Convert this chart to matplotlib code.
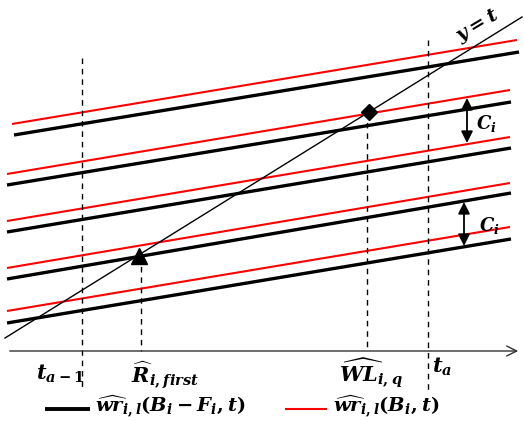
import matplotlib.pyplot as plt
import numpy as np

plt.rcParams['mathtext.fontset'] = 'custom'
plt.rcParams['mathtext.it'] = 'DejaVu Serif:bold:italic'
plt.rcParams['mathtext.rm'] = 'DejaVu Serif:bold'
plt.rcParams['mathtext.bf'] = 'DejaVu Serif:bold'

# line pairs (pixel-like coordinates, y grows downward)
red_x0 = [12, 7, 7, 7, 7]
red_x1 = [517, 510, 510, 510, 510]
red_y0 = [124, 174, 221, 268, 311]
red_y1 = [40, 90, 137, 183, 227]
black_x0 = [14, 7, 7, 7, 7]
black_x1 = [519, 511, 511, 511, 511]
black_y0 = [135, 185, 232, 279, 323]
black_y1 = [52, 102, 148, 193, 239]

# y = t diagonal
diag_x = [5, 522]
diag_y = [338, 17]

# vertical dashed markers
vline_x = [82, 141, 367, 428]
vline_top = [58, 256, 112, 40]
vline_bot = [390, 351, 351, 390]

tri_pt = (139, 256)
dia_pt = (369, 112)

fig = plt.figure(figsize=(5.24, 4.21), dpi=100)
ax = fig.add_axes([0, 0, 1, 1])
ax.set_xlim(0, 524)
ax.set_ylim(421, 0)
ax.axis('off')

for i in range(5):
    ax.plot([black_x0[i], black_x1[i]], [black_y0[i], black_y1[i]], color='black', lw=2.4,
            solid_capstyle='butt')
    ax.plot([red_x0[i], red_x1[i]], [red_y0[i], red_y1[i]], color='#ff0000', lw=1.5,
            solid_capstyle='butt')

ax.plot(diag_x, diag_y, color='black', lw=1.0)

for x, y0, y1 in zip(vline_x, vline_top, vline_bot):
    ax.plot([x, x], [y0, y1], color='black', lw=1.0, dashes=(4, 3.5))

# time axis
ax.annotate('', xy=(521, 351), xytext=(7, 351),
            arrowprops=dict(arrowstyle='->', color='#333333', lw=1.0, mutation_scale=18))

ax.plot(*tri_pt, marker='^', color='black', markersize=11)
ax.plot(*dia_pt, marker='D', color='black', markersize=8)

# C_i arrows
arr = dict(arrowstyle='<|-|>,head_length=0.5,head_width=0.25', color='black', lw=1.3,
           mutation_scale=14, shrinkA=0, shrinkB=0)
ax.annotate('', xy=(467, 98), xytext=(467, 143), arrowprops=arr)
ax.annotate('', xy=(464, 202), xytext=(464, 246), arrowprops=arr)
ax.text(476, 124, r'$C_i$', fontsize=13, va='center', ha='left')
ax.text(479, 225, r'$C_i$', fontsize=13, va='center', ha='left')

ax.text(478, 26, r'$y = t$', fontsize=14, rotation=31, ha='center', va='center')

fs = 15
ax.text(36, 374, r'$t_{a-1}$', fontsize=fs, ha='left', va='center')
ax.text(131, 375, r'$\widehat{R}_{i,first}$', fontsize=fs, ha='left', va='center')
ax.text(339, 373, r'$\widehat{WL}_{i,q}$', fontsize=fs, ha='left', va='center')
ax.text(432, 367, r'$t_a$', fontsize=fs, ha='left', va='center')

# legend
ax.plot([45, 90], [409, 409], color='black', lw=2.8, solid_capstyle='butt')
ax.text(95, 407, r'$\widehat{wr}_{i,l}(B_i - F_i, t)$', fontsize=14, ha='left', va='center')
ax.plot([285, 327], [409, 409], color='#ff0000', lw=1.5, solid_capstyle='butt')
ax.text(333, 407, r'$\widehat{wr}_{i,l}(B_i, t)$', fontsize=14, ha='left', va='center')

fig.savefig('out.png', dpi=100)
